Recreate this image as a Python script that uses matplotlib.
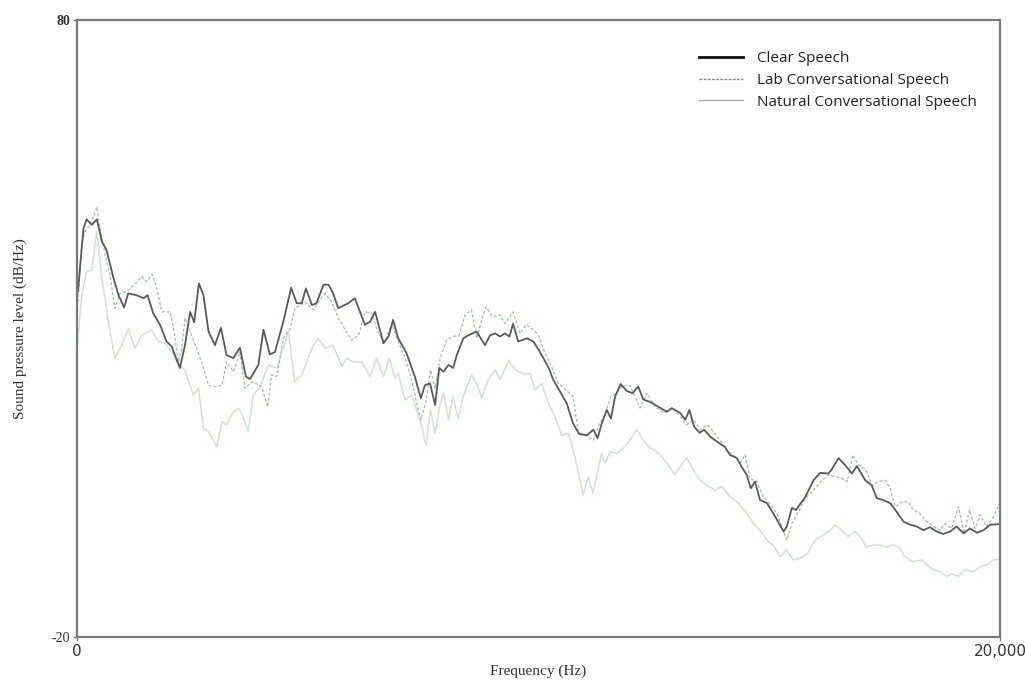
import numpy as np
import matplotlib
matplotlib.use('Agg')
import matplotlib.pyplot as plt
from matplotlib.lines import Line2D

# Clear speech (Hz, dB/Hz)
clear_hz = [20, 140, 210, 320, 430, 540, 640, 790, 900, 1020, 1110, 1290, 1440, 1530, 1650, 1800,
            1940, 2050, 2230, 2340, 2450, 2540, 2640, 2740, 2850, 2990, 3120, 3240, 3390, 3530,
            3660, 3750, 3930, 4040, 4180, 4290, 4470, 4640, 4760, 4870, 4960, 5090, 5190, 5340,
            5450, 5550, 5660, 5880, 6020, 6240, 6350, 6460, 6640, 6750, 6850, 6960, 7140, 7320,
            7450, 7540, 7650, 7760, 7850, 7940, 8050, 8150, 8230, 8370, 8480, 8660, 8840, 8950,
            9060, 9170, 9270, 9370, 9450, 9560, 9750, 9890, 10030, 10210, 10320, 10610, 10750,
            10880, 11050, 11190, 11280, 11370, 11480, 11570, 11660, 11780, 11910, 12040, 12160,
            12270, 12420, 12600, 12780, 12890, 13070, 13180, 13270, 13370, 13490, 13590, 13720,
            13860, 14040, 14150, 14300, 14400, 14510, 14600, 14690, 14800, 14950, 15130, 15310,
            15380, 15490, 15580, 15780, 15960, 16100, 16280, 16350, 16500, 16640, 16790, 16900,
            17080, 17220, 17330, 17470, 17620, 17760, 17910, 18050, 18200, 18340, 18480, 18630,
            18770, 18920, 19060, 19210, 19350, 19500, 19640, 19790, 20000]
clear_db = [36.0, 46.2, 47.7, 46.8, 47.7, 44.1, 42.7, 38.2, 35.4, 33.4, 35.7, 35.4, 34.9, 35.4, 32.5, 30.6,
            27.9, 27.1, 23.6, 27.3, 32.7, 31.0, 37.3, 35.4, 29.5, 27.3, 30.1, 25.7, 25.2, 26.9,
            22.2, 21.8, 24.1, 29.8, 25.8, 26.2, 31.1, 36.6, 34.1, 34.1, 36.5, 33.8, 34.1, 37.1,
            37.1, 35.7, 33.3, 34.1, 34.9, 30.6, 31.1, 32.7, 27.6, 28.7, 31.4, 28.4, 26.0, 22.2,
            18.7, 20.8, 21.1, 17.6, 23.6, 23.0, 24.1, 23.6, 25.7, 28.4, 28.9, 29.5, 27.3, 28.9,
            29.2, 28.7, 29.2, 28.7, 30.8, 27.9, 28.4, 27.9, 26.2, 23.8, 21.7, 17.9, 14.6,
            12.9, 12.7, 13.6, 12.2, 14.6, 16.8, 15.4, 19.0, 21.0, 19.9, 19.5, 20.6,
            18.5, 18.1, 17.3, 16.5, 17.1, 16.3, 15.2, 16.8, 14.1, 13.1, 13.6, 12.5,
            11.7, 10.8, 9.5, 9.0, 7.6, 6.3, 4.1, 5.2, 2.2, 1.7, -0.5, -2.9,
            -2.1, 0.9, 0.6, 2.7, 5.4, 6.6, 6.5, 7.1, 9.0, 7.9, 6.5, 7.7,
            5.4, 4.6, 2.5, 2.2, 1.7, 0.3, -1.3, -1.8, -2.1, -2.7, -2.2, -2.9,
            -3.3, -2.9, -2.1, -3.2, -2.4, -3.1, -2.7, -1.8, -1.7]

# Lab conversational speech
lab_hz = [20, 100, 170, 280, 430, 500, 610, 715, 820, 930, 1080, 1260, 1400, 1510, 1630, 1730,
          1840, 2020, 2090, 2200, 2270, 2340, 2450, 2590, 2740, 2850, 2990, 3140, 3240, 3390,
          3530, 3640, 3790, 4000, 4130, 4220, 4330, 4470, 4620, 4720, 4940, 5120, 5230, 5370,
          5520, 5660, 5810, 5950, 6100, 6240, 6390, 6530, 6670, 6820, 6960, 7110, 7250, 7360,
          7450, 7560, 7660, 7760, 7870, 8010, 8150, 8280, 8410, 8550, 8660, 8770, 8860, 9010,
          9170, 9270, 9450, 9600, 9730, 9890, 10000, 10140, 10250, 10430, 10750, 10860, 11050,
          11190, 11320, 11440, 11570, 11700, 11800, 11980, 12090, 12200, 12350, 12530, 12710,
          12890, 13070, 13210, 13360, 13500, 13650, 13790, 13930, 14080, 14220, 14370, 14480,
          14580, 14730, 14870, 14980, 15160, 15380, 15490, 15630, 15810, 15990, 16140, 16280,
          16430, 16570, 16690, 16810, 16930, 17100, 17220, 17360, 17510, 17620, 17730, 17870,
          18010, 18120, 18270, 18410, 18560, 18700, 18810, 18950, 19100, 19220, 19340, 19460,
          19570, 19710, 19860, 20000]
lab_db = [34.3, 43.5, 45.7, 46.8, 49.7, 46.2, 41.9, 38.7, 33.3, 35.7, 36.0, 37.3, 38.4, 37.6, 38.8, 36.5,
          32.7, 32.7, 30.0, 24.6, 26.8, 31.7, 29.5, 26.8, 23.6, 20.8, 20.6, 20.8, 24.6, 23.0,
          26.2, 20.3, 21.4, 20.6, 17.3, 22.5, 22.2, 28.4, 30.0, 33.3, 34.3, 33.0, 34.3, 35.7,
          34.3, 31.7, 29.8, 28.1, 28.9, 32.7, 32.5, 29.2, 27.9, 30.8, 27.9, 25.2, 21.7, 17.9,
          15.2, 18.1, 23.3, 20.3, 25.2, 28.1, 28.7, 28.9, 32.2, 33.0, 28.4, 31.4, 33.5, 31.9,
          32.2, 30.8, 32.7, 29.2, 30.6, 29.8, 28.9, 26.0, 24.4, 21.1, 19.0, 13.3, 12.5,
          11.9, 14.6, 16.0, 19.0, 19.5, 20.6, 20.8, 19.0, 17.1, 19.5, 17.3, 16.3,
          17.1, 15.7, 14.4, 15.2, 13.6, 14.4, 13.3, 11.9, 10.3, 9.5, 8.2, 9.5,
          5.7, 5.2, 2.7, 1.9, 0.1, -4.3, -1.6, 0.3, 2.7, 4.1, 5.4, 6.3,
          6.0, 5.7, 5.2, 9.5, 7.9, 7.1, 4.6, 5.2, 5.4, 4.1, 1.1, 1.9,
          1.9, 0.6, 0.0, -1.3, -2.1, -2.7, -1.6, -2.4, 1.1, -3.2, 0.6, -2.4,
          -0.2, -2.1, -0.5, 1.9]

# Natural conversational speech
nat_hz = [10, 100, 210, 320, 430, 540, 680, 820, 970, 1110, 1260, 1400, 1620, 1760, 1910, 2050,
          2200, 2340, 2520, 2630, 2740, 2850, 3030, 3140, 3240, 3390, 3500, 3600, 3710, 3820,
          3970, 4150, 4330, 4470, 4580, 4720, 4870, 5010, 5120, 5230, 5370, 5550, 5740, 5840,
          5990, 6170, 6350, 6490, 6640, 6770, 6890, 6960, 7110, 7250, 7360, 7470, 7560, 7660,
          7760, 7870, 7950, 8050, 8150, 8260, 8370, 8550, 8660, 8770, 8910, 9060, 9170, 9350,
          9490, 9670, 9820, 9920, 10070, 10210, 10360, 10500, 10650, 10790, 10970, 11080, 11180,
          11300, 11370, 11440, 11550, 11700, 11840, 11980, 12130, 12270, 12420, 12600, 12780,
          12960, 13070, 13210, 13360, 13500, 13650, 13830, 13970, 14150, 14330, 14510, 14660,
          14800, 14980, 15090, 15230, 15380, 15520, 15700, 15850, 15990, 16170, 16320, 16430,
          16570, 16710, 16860, 16970, 17100, 17260, 17400, 17550, 17690, 17830, 17940, 18120,
          18300, 18410, 18560, 18700, 18850, 18950, 19100, 19240, 19420, 19570, 19710, 19860, 20000]
nat_db = [27.3, 35.4, 39.2, 39.5, 45.7, 38.1, 31.1, 25.2, 27.3, 30.0, 26.8, 28.9, 29.8, 27.9, 27.6, 26.2,
          24.1, 23.3, 19.2, 20.3, 13.8, 13.3, 10.8, 14.9, 14.4, 16.5, 17.1, 15.7, 13.3, 19.2,
          20.6, 24.1, 23.6, 26.8, 29.5, 21.4, 22.5, 25.2, 27.3, 28.4, 26.8, 27.3, 23.8, 25.2,
          24.6, 24.6, 22.2, 25.2, 22.2, 25.2, 21.9, 22.7, 18.4, 19.2, 16.8, 14.1, 11.1, 16.8,
          13.0, 17.9, 19.5, 15.2, 19.0, 15.4, 19.0, 22.5, 21.1, 18.7, 21.7, 23.3, 21.7, 24.9,
          23.3, 22.7, 22.7, 20.0, 21.1, 17.9, 15.7, 12.7, 13.0, 9.2, 3.0, 6.0, 3.3,
          7.6, 9.8, 8.2, 10.0, 9.8, 10.6, 11.9, 13.6, 11.9, 10.6, 9.8, 8.2,
          6.3, 7.6, 9.0, 7.1, 5.4, 4.6, 3.8, 4.4, 2.7, 1.7, 0.1, -1.6,
          -2.7, -4.6, -5.1, -7.0, -5.9, -7.5, -7.2, -6.2, -4.3, -3.5, -2.7, -1.8,
          -2.7, -3.7, -2.9, -3.7, -5.4, -5.1, -5.1, -5.4, -5.1, -5.6, -7.0, -7.8,
          -7.5, -8.3, -9.1, -9.4, -10.2, -9.7, -10.2, -9.1, -9.4, -8.6, -8.3, -7.5, -7.4]

fig = plt.figure(figsize=(10.25, 6.82), dpi=100)
ax = fig.add_axes([77 / 1025, 1 - 637 / 682, 923 / 1025, 617 / 682])

ax.plot(nat_hz, nat_db, color='#cfe3cf', lw=1.1, label='Natural Conversational Speech')
ax.plot(lab_hz, lab_db, color='#9cc59c', lw=0.9, ls=(0, (2.5, 1.5)), label='Lab Conversational Speech')
ax.plot(clear_hz, clear_db, color='#5a5a5a', lw=1.3, label='Clear Speech')

ax.set_xlim(0, 20000)
ax.set_ylim(-20, 80)
ax.set_xticks([0, 20000])
ax.set_xticklabels(['0', '20,000'], family=['Liberation Sans Narrow', 'DejaVu Sans'], fontsize=11)
ax.set_yticks([-20, 80])
ax.set_yticklabels(['-20', '80'], family='Liberation Serif', fontsize=10)
ax.get_yticklabels()[1].set_fontweight('bold')
ax.tick_params(length=3, width=1, color='#777777', pad=2, labelcolor='#333333')
for s in ax.spines.values():
    s.set_color('#7a7a7a')
    s.set_linewidth(1.6)

ax.set_xlabel('Frequency (Hz)', family='Liberation Serif', fontsize=11, color='#333333', labelpad=4)
ax.set_ylabel('Sound pressure level (dB/Hz)', family='Liberation Serif', fontsize=11, color='#333333', labelpad=18)

# legend proxies mimic the original key (black, grey dashed, light grey)
handles = [Line2D([], [], color='#111111', lw=2.0),
           Line2D([], [], color='#888888', lw=1.0, ls=(0, (2, 1))),
           Line2D([], [], color='#aaaaaa', lw=1.0)]
labels = ['Clear Speech', 'Lab Conversational Speech', 'Natural Conversational Speech']
ax.legend(handles, labels, loc='upper left', bbox_to_anchor=(0.659, 0.972), frameon=False,
          prop={'family': 'Open Sans', 'size': 11}, handlelength=2.9, handletextpad=0.9,
          labelspacing=0.45, labelcolor='#222222')

plt.savefig('out.png', dpi=100)
